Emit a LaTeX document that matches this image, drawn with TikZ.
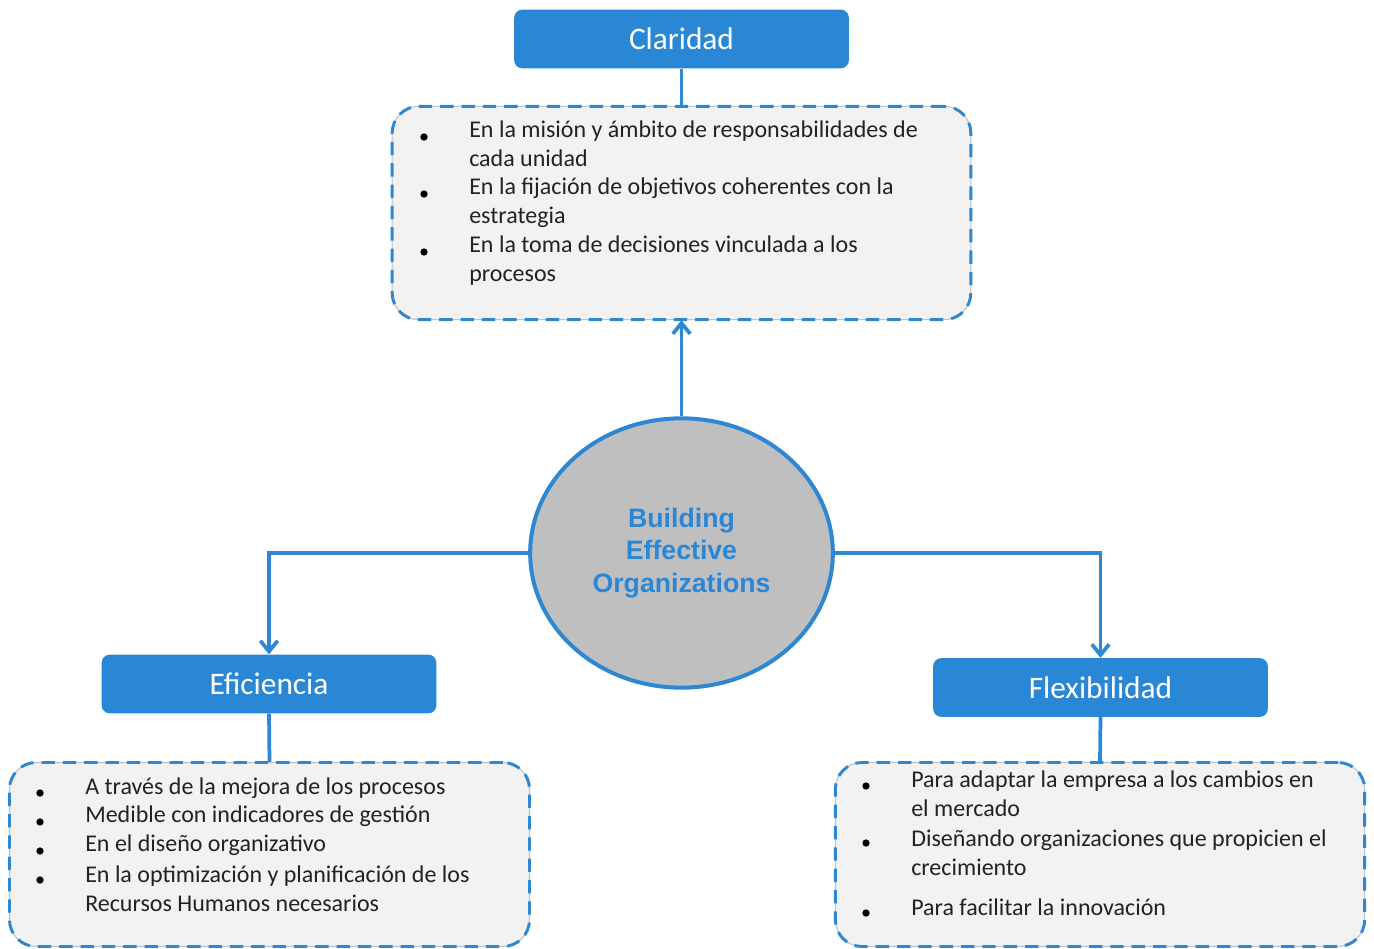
\documentclass[tikz,border=0pt]{standalone}
\usepackage{fontspec}
\setmainfont{Carlito}
\newfontfamily\corefont{Liberation Sans}
\usetikzlibrary{arrows.meta,shapes.geometric}
\definecolor{headblue}{HTML}{2A87D6}
\definecolor{linkblue}{HTML}{2E87D3}
\definecolor{boxgray}{HTML}{F2F2F2}
\definecolor{edgegray}{HTML}{C0C0C0}
\definecolor{coregray}{HTML}{BFBFBF}
\definecolor{bodytext}{HTML}{222222}
\tikzset{
  header/.style={rounded corners=6pt,fill=headblue,minimum width=251pt,minimum height=44pt,font=\fontsize{23.5}{27}\selectfont,text=white},
  dashbox/.style={rounded corners=20pt,fill=boxgray,draw=edgegray,line width=0.8pt,postaction={draw=linkblue,line width=2.2pt,dash pattern=on 10pt off 6pt}},
  item/.style={font=\fontsize{18}{21.75}\selectfont,text=bodytext,align=left,anchor=west,inner sep=0pt},
  dot/.style={circle,fill=black,inner sep=0pt,minimum size=5.5pt},
  core/.style={ellipse,fill=coregray,draw=linkblue,line width=3pt,minimum width=227pt,minimum height=202pt,font=\corefont\bfseries\fontsize{20}{24.5}\selectfont,text=headblue,align=center},
  link/.style={draw=linkblue,line width=2.8pt},
  arr/.style={-{Straight Barb[length=8pt,width=13pt]},draw=linkblue,line width=2.8pt}
}
\begin{document}
\begin{tikzpicture}[x=0.75pt,y=-0.75pt]
\path[use as bounding box] (0,0) rectangle (1374,949);
% centre
\node[core] (core) at (681.5,553) {Building\\Effective\\Organizations};
% Claridad
\node[header] (claridad) at (681.5,39) {Claridad};
\node[dashbox,minimum width=434pt,minimum height=160pt] (clarbox) at (681.5,213) {};
\node[dot] (cb1) at (424,137) {}; \node[dot] (cb2) at (424,194) {}; \node[dot] (cb3) at (424,252) {};
\node[item] (c1) at (469,144) {En la misión y ámbito de responsabilidades de\\cada unidad};
\node[item] (c2) at (469,202.5) {En la fijación de objetivos coherentes con la\\estrategia};
\node[item] (c3) at (469,260.5) {En la toma de decisiones vinculada a los\\procesos};
% Eficiencia
\node[header] (eficiencia) at (269,684) {Eficiencia};
\node[dashbox,minimum width=390pt,minimum height=138pt] (eficbox) at (269.5,854.5) {};
\node[dot] (eb1) at (40,793) {}; \node[dot] (eb2) at (40,822) {}; \node[dot] (eb3) at (40,851) {}; \node[dot] (eb4) at (40,880) {};
\node[item] (e1) at (85,788) {A través de la mejora de los procesos};
\node[item] (e2) at (85,816) {Medible con indicadores de gestión};
\node[item] (e3) at (85,845) {En el diseño organizativo};
\node[item] (e4) at (85,889) {En la optimización y planificación de los\\Recursos Humanos necesarios};
% Flexibilidad
\node[header] (flexibilidad) at (1100.5,687.5) {Flexibilidad};
\node[dashbox,minimum width=397pt,minimum height=138pt] (flexbox) at (1100,854.5) {};
\node[dot] (fb1) at (866,786) {}; \node[dot] (fb2) at (866,843) {}; \node[dot] (fb3) at (866,913) {};
\node[item] (f1) at (911,794) {Para adaptar la empresa a los cambios en\\el mercado};
\node[item] (f2) at (911,852.5) {Diseñando organizaciones que propicien el\\crecimiento};
\node[item] (f3) at (911,907) {Para facilitar la innovación};
% links
\draw[link] (claridad.south)--(clarbox.north);
\draw[link] (eficiencia.south)--(eficbox.north);
\draw[link] (flexibilidad.south)--(flexbox.north);
\draw[arr] (core.north)--(clarbox.south);
\draw[arr] (core.west)-|(eficiencia.north);
\draw[arr] (core.east)-|(flexibilidad.north);
\end{tikzpicture}
\end{document}
